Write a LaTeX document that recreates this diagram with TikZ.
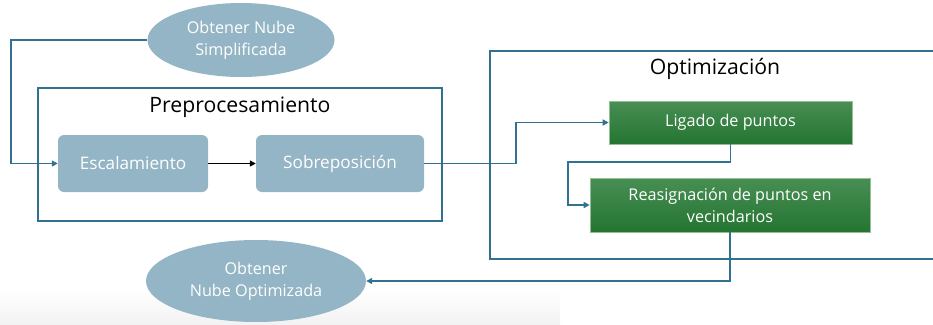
\documentclass[tikz,border=0pt]{standalone}
\usepackage{fontspec}
\setmainfont{Open Sans}
\usetikzlibrary{shapes.geometric,arrows.meta}
\definecolor{paleblue}{RGB}{148,181,197}
\definecolor{edgeblue}{RGB}{49,114,146}
\definecolor{greentop}{RGB}{72,142,84}
\definecolor{greenbot}{RGB}{36,117,49}
\definecolor{greenedge}{RGB}{150,190,150}
\tikzset{
  cloud/.style={ellipse, fill=paleblue, text=white, align=center, inner sep=0pt,
    font=\fontsize{16.2}{22}\selectfont},
  stepbox/.style={rectangle, rounded corners=6pt, fill=paleblue, text=white,
    font=\fontsize{17.2}{20}\selectfont, minimum height=57pt, inner sep=0pt},
  greenbox/.style={rectangle, top color=greentop, bottom color=greenbot,
    draw=greenedge, line width=0.6pt, text=white, align=center,
    font=\fontsize{16.2}{22}\selectfont, inner sep=0pt},
  groupbox/.style={rectangle, draw=edgeblue, line width=1.6pt, inner sep=0pt},
  grouptitle/.style={font=\fontsize{21.2}{25}\selectfont, text=black},
  conn/.style={draw=edgeblue, line width=1.6pt, -{Triangle[length=6pt,width=6pt]}},
  plain/.style={draw=black, line width=1.6pt, -{Triangle[length=6pt,width=6pt]}}
}
\begin{document}
\begin{tikzpicture}[x=1pt,y=-1pt]
\useasboundingbox (0,0) rectangle (933,324);

% faint grey strip along the lower edge
\shade[top color=white, bottom color=black!5, draw=none] (0,290) rectangle (560,324);

% group frames
\node[groupbox, minimum width=404pt, minimum height=133pt] (pre) at (240,154.5) {};
\node[grouptitle] (pretitle) at (240,107) {Preprocesamiento};
\node[groupbox, minimum width=455pt, minimum height=208pt, anchor=north west] (opt) at (489,50) {};
\node[grouptitle] (opttitle) at (715,69) {Optimización};

% input and output clouds
\node[cloud, minimum width=187pt, minimum height=74pt] (simp) at (241,40) {Obtener Nube\\Simplificada};
\node[cloud, minimum width=220pt, minimum height=82pt] (nopt) at (256,281) {Obtener\\Nube Optimizada};

% preprocessing steps
\node[stepbox, minimum width=150pt] (esc) at (133,163.5) {Escalamiento};
\node[stepbox, minimum width=168pt] (sob) at (340,163.5) {Sobreposición};

% optimization steps
\node[greenbox, minimum width=243pt, minimum height=43pt] (lig) at (730.5,122.5) {Ligado de puntos};
\node[greenbox, minimum width=280pt, minimum height=54pt] (rea) at (730,205) {Reasignación de puntos en\\vecindarios};

% bend points
\coordinate (lbend) at (11,40);
\coordinate (mbend) at (516,163.5);
\coordinate (rbend) at (568,162);

% connectors
\draw[conn] (simp.west) -- (lbend) |- (esc.west);
\draw[plain] (esc.east) -- (sob.west);
\draw[conn] (sob.east) -- (mbend) |- (lig.west);
\draw[conn] (lig.south) |- (rbend) |- (rea.west);
\draw[conn] (rea.south) |- (nopt.east);
\end{tikzpicture}
\end{document}
